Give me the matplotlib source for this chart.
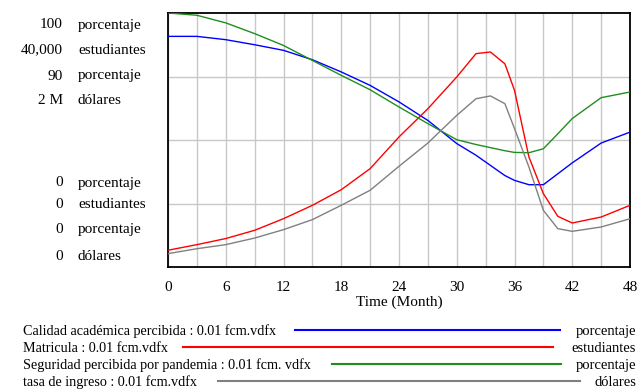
import matplotlib
matplotlib.use("Agg")
import matplotlib.pyplot as plt
import numpy as np

# ---- data ----
time = [0, 3, 6, 9, 12, 15, 18, 21, 24, 27, 30, 32, 33.5, 35, 36, 37.5, 39, 40.5, 42, 45, 48]
calidad = [90.8, 90.8, 89.5, 87.5, 85.3, 81.6, 76.8, 71.5, 65.0, 57.7, 48.6, 44.0, 40.0, 36.0,
           34.1, 32.4, 32.4, 36.7, 41.0, 48.8, 53.1]
matricula = [2640, 3520, 4480, 5780, 7610, 9710, 12170, 15490, 20480, 24930, 29920, 33600, 33860,
             32000, 27820, 17320, 11550, 7980, 6930, 7870, 9710]
seguridad = [90.0, 89.2, 86.5, 82.7, 78.5, 73.2, 67.9, 62.8, 56.7, 50.8, 45.1, 43.4, 42.3, 41.2,
             40.6, 40.5, 41.9, 47.2, 52.6, 60.0, 62.0]
tasa = [0.105e6, 0.144e6, 0.176e6, 0.228e6, 0.294e6, 0.373e6, 0.486e6, 0.604e6, 0.793e6, 0.976e6,
        1.194e6, 1.325e6, 1.347e6, 1.286e6, 1.09e6, 0.787e6, 0.446e6, 0.302e6, 0.281e6, 0.315e6, 0.380e6]

series_names = ["Calidad académica percibida : 0.01 fcm.vdfx",
                "Matricula : 0.01 fcm.vdfx",
                "Seguridad percibida por pandemia : 0.01 fcm. vdfx",
                "tasa de ingreso : 0.01 fcm.vdfx"]
series_units = ["porcentaje", "estudiantes", "porcentaje", "dólares"]
series_max = [100, 40000, 90, 2e6]
top_labels = ["100", "40,000", "90", "2 M"]
bottom_labels = ["0", "0", "0", "0"]
colors = ["#0000ff", "#ff0000", "#1e8f1e", "#808080"]
x_ticks = [0, 6, 12, 18, 24, 30, 36, 42, 48]

plt.rcParams['font.family'] = ['Liberation Serif', 'DejaVu Serif']

W, H = 642, 389
fig = plt.figure(figsize=(W / 100, H / 100), dpi=100)

def px(x, y):
    return x / W, 1 - y / H

L, T, R, B = 168, 13, 630, 267
ax = fig.add_axes([L / W, 1 - B / H, (R - L) / W, (B - T) / H])

data = [calidad, matricula, seguridad, tasa]
for vals, mx, c in zip(data, series_max, colors):
    ax.plot(time, np.array(vals) / mx, color=c, lw=1.0, zorder=3)

ax.set_xlim(0, 48)
ax.set_ylim(0, 1)
ax.set_xticks(np.arange(0, 49, 3), minor=False)
ax.set_xticklabels([str(t) if t in x_ticks else "" for t in range(0, 49, 3)], fontsize=11)
ax.set_yticks([0.25, 0.5, 0.75])
ax.set_yticklabels([])
ax.tick_params(length=0, pad=10)
ax.grid(True, color="#c8c8c8", lw=1.0)
for s in ax.spines.values():
    s.set_linewidth(1.3)
    s.set_color("black")
ax.set_xlabel("Time (Month)", fontsize=11, labelpad=1)

# stacked y-axis labels
fs = 11
top_y = [25, 50, 76, 100]
bot_y = [183, 205, 230, 256]
for i in range(4):
    fig.text(*px(63, top_y[i]), top_labels[i], ha="right", va="center", fontsize=fs)
    fig.text(*px(78, top_y[i]), series_units[i], ha="left", va="center", fontsize=fs)
    fig.text(*px(63, bot_y[i]), bottom_labels[i], ha="right", va="center", fontsize=fs)
    fig.text(*px(78, bot_y[i]), series_units[i], ha="left", va="center", fontsize=fs)

# legend rows
leg_y = [331, 348, 365, 382]
line_x = [(295, 560), (183, 553), (332, 561), (218, 580)]
for i in range(4):
    fig.text(*px(23, leg_y[i]), series_names[i], ha="left", va="center", fontsize=10.2)
    fig.text(*px(636, leg_y[i]), series_units[i], ha="right", va="center", fontsize=10.5)
    x0, x1 = line_x[i]
    fig.add_artist(plt.Line2D([x0 / W, x1 / W], [1 - (leg_y[i] - 1) / H] * 2,
                              color=colors[i], lw=1.5, transform=fig.transFigure))

fig.savefig("out.png", dpi=100)
